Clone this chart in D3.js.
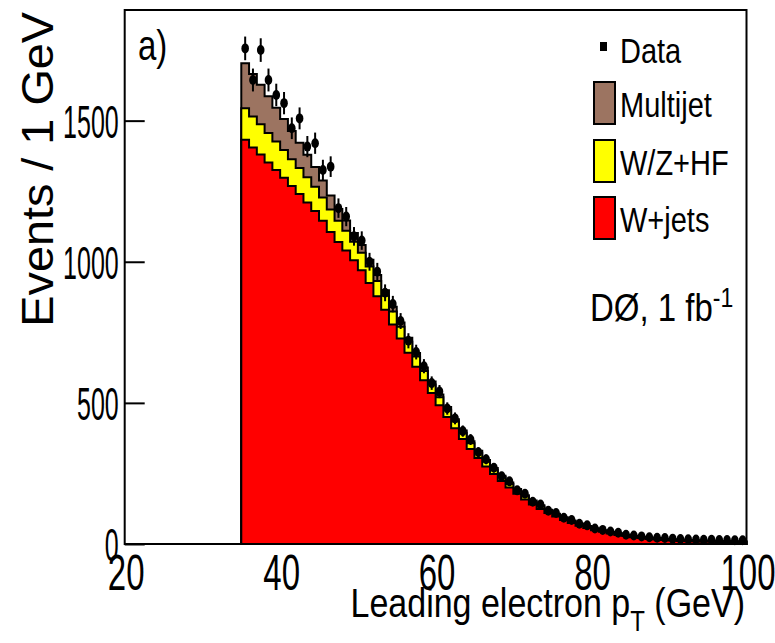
<!DOCTYPE html>
<html>
<head>
<meta charset="utf-8">
<script src="https://cdn.jsdelivr.net/npm/d3@7"></script>
<style>
  html, body { margin: 0; padding: 0; background: #fff; }
  svg { display: block; }
  text { font-family: "Liberation Sans", Arial, Helvetica, sans-serif; fill: #000; }
</style>
</head>
<body>
<svg id="chart" width="775" height="643"></svg>
<script>
// Lower edges of the 1 GeV bins, 35..99 GeV
const binLow = d3.range(35, 100);

// Expected W+jets events per bin
const wjets = [
  1432, 1405, 1380, 1352, 1325, 1298, 1268, 1240, 1210, 1180,
  1145, 1105, 1070, 1040, 1005,  970,  925,  878,  830,  778,
   728,  678,  628,  580,  535,  492,  450,  410,  372,  337,
   305,  275,  248,  223,  200,  178,  158,  140,  124,  110,
    97,   85,   74,   65,   57,   49,   43,   37,   32,   28,
    24,   21,   18,   16,   14,   12,   11,   10,    9,    8,
     8,    7,    7,    6,    6
];

// Expected W/Z + heavy flavour events per bin
const wzhf = [
   112,  110,  107,  104,  101,   98,   95,   92,   89,   86,
    83,   80,   75,   70,   66,   62,   58,   54,   50,   46,
    42,   39,   36,   33,   30,   28,   26,   24,   22,   20,
    18,   17,   15,   14,   13,   12,   11,   10,    9,    8,
     7,    7,    6,    6,    5,    5,    4,    4,    4,    3,
     3,    3,    3,    3,    3,    3,    3,    2,    2,    2,
     2,    2,    2,    2,    2
];

// Expected multijet events per bin
const multijet = [
   159,  150,  140,  130,  120,  110,  100,   90,   80,   70,
    60,   50,   42,   36,   31,   27,   24,   21,   19,   17,
    15,   14,   13,   12,   11,   10,    9,    8,    8,    7,
     7,    6,    6,    5,    5,    5,    4,    4,    4,    3,
     3,    3,    3,    2,    2,    2,    2,    2,    2,    2,
     2,    2,    2,    2,    2,    2,    2,    2,    2,    2,
     2,    2,    2,    2,    2
];

// Observed events per bin
const observed = [
  1756, 1644, 1750, 1644, 1591, 1562, 1473, 1508, 1408, 1420,
  1325, 1337, 1190, 1160, 1090, 1075, 1000,  965,  890,  850,
   790,  720,  680,  630,  570,  540,  480,  445,  400,  370,
   325,  300,  270,  240,  222,  190,  178,  150,  140,  118,
   110,   93,   85,   72,   66,   55,   50,   44,   40,   33,
    30,   27,   24,   22,   21,   19,   18,   17,   16,   15,
    15,   14,   14,   13,   13
];

const xTicks = [20, 40, 60, 80, 100];
const yTicks = [0, 500, 1000, 1500];
const xDomain = [20, 100];
const yDomain = [0, 1892];

const xTitle = "Leading electron p";
const xTitleSub = "T";
const xTitleEnd = " (GeV)";
const yTitle = "Events / 1 GeV";
const panelTag = "a)";
const legendData = "Data";
const legendStack = ["Multijet", "W/Z+HF", "W+jets"];
const expLabel = "DØ, 1 fb";
const expLabelSup = "-1";

const colors = { multijet: "#9c7461", wzhf: "#ffff00", wjets: "#ff0000" };

const svg = d3.select("#chart");
const frame = { left: 124.7, right: 746.5, top: 10, bottom: 544 };

const x = d3.scaleLinear().domain(xDomain).range([frame.left, frame.right]);
const y = d3.scaleLinear().domain(yDomain).range([frame.bottom, frame.top]);

svg.append("rect").attr("width", 775).attr("height", 643).attr("fill", "#fff");

// Cumulative stack: W+jets, then +W/Z+HF, then +multijet
const lvlRed = wjets.slice();
const lvlYellow = wjets.map((v, i) => v + wzhf[i]);
const lvlBrown = lvlYellow.map((v, i) => v + multijet[i]);

function stepPoints(values) {
  const pts = [[binLow[0], 0]];
  values.forEach((v, i) => pts.push([binLow[i], v]));
  pts.push([binLow[binLow.length - 1] + 1, values[values.length - 1]]);
  pts.push([binLow[binLow.length - 1] + 1, 0]);
  return pts;
}

const stepLine = d3.line()
  .x(d => x(d[0]))
  .y(d => y(d[1]))
  .curve(d3.curveStepAfter);

const hists = [
  { vals: lvlBrown, fill: colors.multijet },
  { vals: lvlYellow, fill: colors.wzhf },
  { vals: lvlRed, fill: colors.wjets }
];

svg.append("g").selectAll("path")
  .data(hists)
  .join("path")
  .attr("d", d => stepLine(stepPoints(d.vals)) + "Z")
  .attr("fill", d => d.fill)
  .attr("stroke", "#000")
  .attr("stroke-width", 2)
  .attr("stroke-linejoin", "miter");

// Observed data with statistical error bars
const pts = svg.append("g");
pts.selectAll("line")
  .data(observed)
  .join("line")
  .attr("x1", (d, i) => x(binLow[i] + 0.5))
  .attr("x2", (d, i) => x(binLow[i] + 0.5))
  .attr("y1", d => y(d - Math.sqrt(d)))
  .attr("y2", d => y(d + Math.sqrt(d)))
  .attr("stroke", "#000")
  .attr("stroke-width", 2);
pts.selectAll("ellipse")
  .data(observed)
  .join("ellipse")
  .attr("cx", (d, i) => x(binLow[i] + 0.5))
  .attr("cy", d => y(d))
  .attr("rx", 3.8)
  .attr("ry", 5)
  .attr("fill", "#000");

// Frame
svg.append("rect")
  .attr("x", frame.left).attr("y", frame.top)
  .attr("width", frame.right - frame.left)
  .attr("height", frame.bottom - frame.top)
  .attr("fill", "none")
  .attr("stroke", "#000")
  .attr("stroke-width", 2);

// Axes
const yAxis = d3.axisLeft(y).tickValues(yTicks).tickSizeInner(-20).tickSizeOuter(0).tickFormat(d3.format("d"));
const xAxis = d3.axisBottom(x).tickValues(xTicks).tickSize(0).tickFormat(d3.format("d"));

const gy = svg.append("g").attr("transform", `translate(${frame.left},0)`).call(yAxis);
gy.select(".domain").remove();
gy.selectAll(".tick line").attr("stroke", "#000").attr("stroke-width", 2);
gy.selectAll(".tick text").remove();
gy.selectAll(".tick").append("text")
  .attr("text-anchor", "end")
  .attr("transform", "translate(-6,0) scale(1,1.85)")
  .attr("dy", "0.36em")
  .attr("font-size", 25)
  .attr("fill", "#000")
  .text(d => d);

const gx = svg.append("g").attr("transform", `translate(0,${frame.bottom})`).call(xAxis);
gx.select(".domain").remove();
gx.selectAll(".tick line").remove();
gx.selectAll(".tick text").remove();
gx.selectAll(".tick").append("text")
  .attr("text-anchor", "middle")
  .attr("transform", "translate(1,46) scale(1,1.5)")
  .attr("font-size", 33)
  .attr("fill", "#000")
  .text(d => d);

function stretchedText(px, py, size, sy, anchor) {
  return svg.append("text")
    .attr("transform", `translate(${px},${py}) scale(1,${sy})`)
    .attr("font-size", size)
    .attr("text-anchor", anchor || "start");
}

// Axis titles
const xt = stretchedText(745, 617, 34, 1.2, "end");
xt.append("tspan").text(xTitle);
xt.append("tspan").attr("font-size", 24).attr("dy", 12).text(xTitleSub);
xt.append("tspan").attr("dy", -12).text(xTitleEnd);

svg.append("text")
  .attr("transform", "translate(53,12) rotate(-90) scale(1.04,1)")
  .attr("font-size", 45)
  .attr("text-anchor", "end")
  .text(yTitle);

// Panel tag
stretchedText(138, 60, 33, 1.3).text(panelTag);

// Legend
svg.append("rect").attr("x", 600).attr("y", 42).attr("width", 7).attr("height", 9).attr("fill", "#000");
stretchedText(620, 63, 29, 1.2).text(legendData);

const legY = [82, 140, 197];
const legFill = [colors.multijet, colors.wzhf, colors.wjets];
legendStack.forEach((lab, i) => {
  svg.append("rect")
    .attr("x", 594).attr("y", legY[i])
    .attr("width", 21).attr("height", 42)
    .attr("fill", legFill[i])
    .attr("stroke", "#000").attr("stroke-width", 2);
  stretchedText(620, legY[i] + 35, 29, 1.2).text(lab);
});

const exp = stretchedText(590, 321, 33, 1.2);
exp.append("tspan").text(expLabel);
exp.append("tspan").attr("font-size", 23).attr("dy", -12).text(expLabelSup);
</script>
</body>
</html>
